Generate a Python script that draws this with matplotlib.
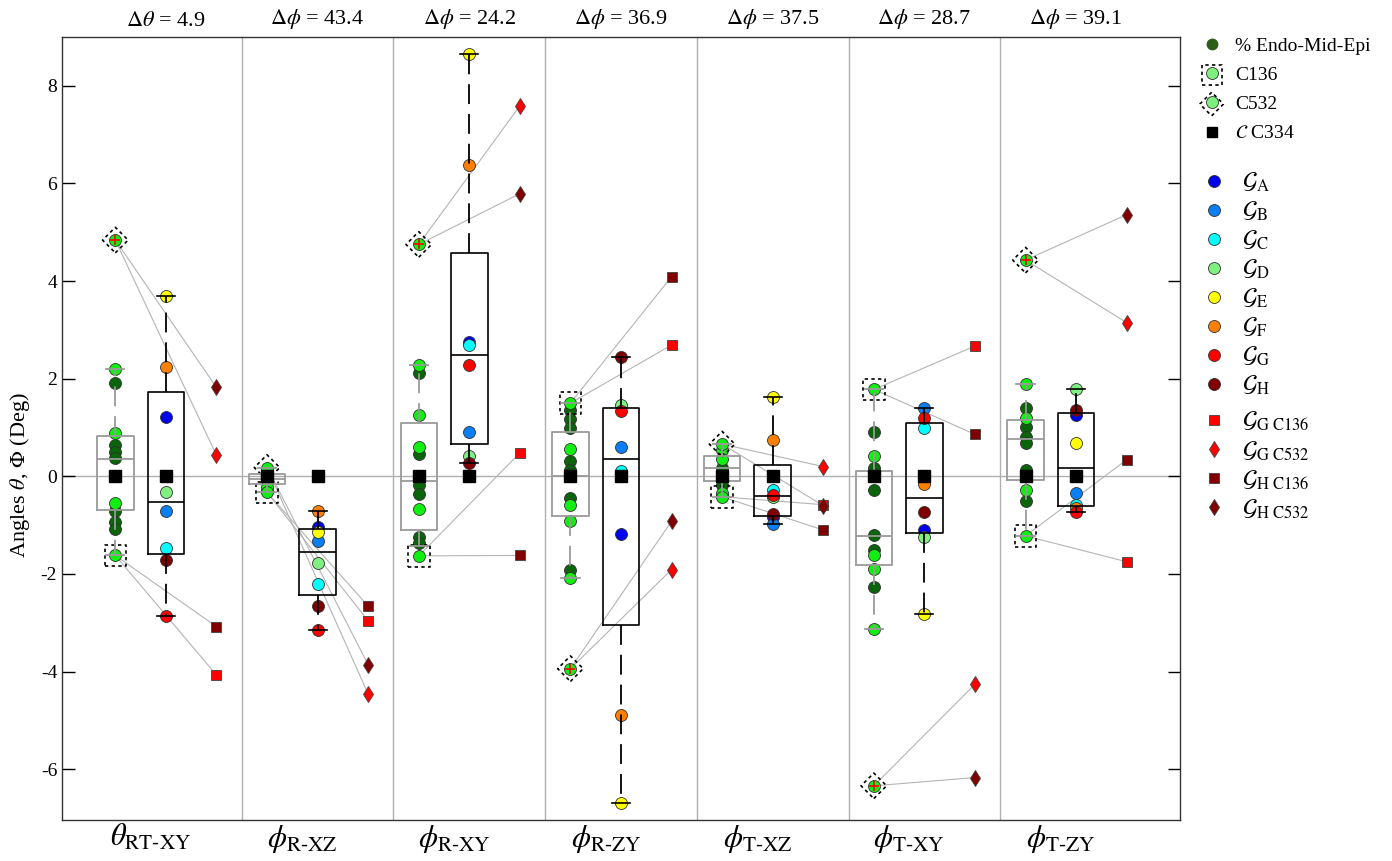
import numpy as np
import matplotlib
matplotlib.use("Agg")
import matplotlib.pyplot as plt
from matplotlib.lines import Line2D

plt.rcParams['font.family'] = ['Liberation Serif', 'DejaVu Serif']
plt.rcParams['mathtext.fontset'] = 'stix'
plt.rcParams['axes.unicode_minus'] = False

# ---------------- data ----------------
x_labels = [r'$\theta_{\mathrm{RT‐XY}}$', r'$\phi_{\mathrm{R‐XZ}}$', r'$\phi_{\mathrm{R‐XY}}$',
            r'$\phi_{\mathrm{R‐ZY}}$', r'$\phi_{\mathrm{T‐XZ}}$', r'$\phi_{\mathrm{T‐XY}}$',
            r'$\phi_{\mathrm{T‐ZY}}$']
delta_symbols = [r'\theta', r'\phi', r'\phi', r'\phi', r'\phi', r'\phi', r'\phi']
delta_values = [4.9, 43.4, 24.2, 36.9, 37.5, 28.7, 39.1]

# % Endo-Mid-Epi layer samples (two shades)
endo_dark = [
    [1.91, 0.64, 0.50, 0.37, -0.71, -0.93, -1.07],
    [0.05, -0.02, -0.12, -0.30],
    [2.11, 0.45, -0.18, -0.37, -1.24, -1.37],
    [1.36, 1.17, 1.00, 0.31, 0.14, 0.05, -0.44, -1.92],
    [0.18, -0.18, -0.38],
    [0.91, 0.18, -0.28, -1.20, -1.50, -2.27],
    [1.39, 1.02, 0.80, 0.68, 0.13, -0.51],
]
endo_light = [
    [2.20, 0.88, -0.54],
    [0.10, -0.05, -0.22],
    [2.29, 1.26, 0.61, -0.66],
    [0.57, -0.59, -0.91, -2.09],
    [0.54, 0.35, -0.35],
    [0.42, -1.61, -1.89, -3.12],
    [1.89, 1.20, -0.28],
]
c136 = [-1.62, -0.33, -1.63, 1.50, -0.42, 1.78, -1.22]
c532 = [4.84, 0.18, 4.75, -3.94, 0.66, -6.34, 4.43]
c334 = [0, 0, 0, 0, 0, 0, 0]

# summary of the layer samples
layer_q1 = [-0.68, -0.16, -1.10, -0.81, -0.09, -1.82, -0.08]
layer_med = [0.36, -0.06, -0.10, 0.00, 0.18, -1.22, 0.76]
layer_q3 = [0.83, 0.04, 1.09, 0.90, 0.42, 0.11, 1.15]
layer_lo = [-1.62, -0.33, -1.43, -2.09, -0.42, -3.12, -1.22]
layer_hi = [2.20, 0.18, 2.29, 1.50, 0.66, 1.78, 1.89]

# groups G_A .. G_H
g_A = [1.22, -1.03, 2.76, -1.19, -0.84, -1.09, 1.25]
g_B = [-0.71, -1.33, 0.90, 0.60, -0.98, 1.41, -0.35]
g_C = [-1.47, -2.21, 2.69, 0.11, -0.28, 0.98, -0.59]
g_D = [-0.33, -1.78, 0.42, 1.46, -0.42, -1.24, 1.78]
g_E = [3.70, -1.13, 8.65, -6.70, 1.63, -2.83, 0.68]
g_F = [2.23, -0.70, 6.38, -4.89, 0.74, -0.16, -0.64]
g_G = [-2.86, -3.15, 2.28, 1.34, -0.38, 1.20, -0.73]
g_H = [-1.72, -2.65, 0.27, 2.45, -0.78, -0.74, 1.36]

gG_c136 = [-4.07, -2.96, 0.48, 2.69, -0.58, 2.67, -1.75]
gG_c532 = [0.43, -4.46, 7.59, -1.91, 0.20, -4.26, 3.15]
gH_c136 = [-3.08, -2.66, -1.62, 4.09, -1.10, 0.86, 0.34]
gH_c532 = [1.82, -3.86, 5.79, -0.92, -0.60, -6.17, 5.36]

group_names = ['A', 'B', 'C', 'D', 'E', 'F', 'G', 'H']
group_values = [g_A, g_B, g_C, g_D, g_E, g_F, g_G, g_H]
group_colors = ['#0000f0', '#0a7ff5', '#00ffff', '#80f080', '#ffff00', '#ff8000', '#ff0000', '#800000']

DARK = '#0a640a'
LIGHT = '#11ee11'
PALE = '#7ff07f'
RED = '#ff0000'
MAROON = '#800000'
EDGE = '#303030'
GRAY = '#9a9a9a'

# ---------------- figure ----------------
fig = plt.figure(figsize=(13.92, 8.61), dpi=100)
ax = fig.add_axes([62 / 1392, 1 - 820 / 861, (1180 - 62) / 1392, (820 - 37) / 861])
ax.set_xlim(-0.185, 7.185)
ax.set_ylim(-7.04, 9.0)

LEFT, MID, RIGHT = 1 / 6, 1 / 2, 5 / 6
n = len(x_labels)

for k in range(1, n):
    ax.axvline(k, color='#b0b0b0', lw=1.0, zorder=1)
ax.axhline(0, color='#b0b0b0', lw=1.0, zorder=1)

circ = dict(linestyle='none', marker='o', ms=8.6, mec=EDGE, mew=0.6, zorder=3)
outline = dict(facecolors='none', edgecolors='k', linewidths=1.2, linestyles=(0, (2, 2)))

for k in range(n):
    xl, xm, xr = k + LEFT, k + MID, k + RIGHT

    # connectors from reference points to the marked group values
    for ref, vals in ((c136[k], (gG_c136[k], gH_c136[k])), (c532[k], (gG_c532[k], gH_c532[k]))):
        for v in vals:
            ax.plot([xl, xr], [ref, v], color='#b4b4b4', lw=0.8, zorder=2)

    # layer samples
    ax.plot([xl] * len(endo_dark[k]), endo_dark[k], mfc=DARK, **circ)
    ax.plot([xl] * len(endo_light[k]), endo_light[k], mfc=LIGHT, **circ)
    ax.plot([xl, xl], [c136[k], c532[k]], mfc=LIGHT, **circ)
    ax.scatter([xl], [c136[k]], marker='s', s=15.5 ** 2, zorder=3.5, **outline)
    ax.scatter([xl], [c532[k]], marker='D', s=13 ** 2, zorder=3.5, **outline)

    # group samples
    for vals, col in zip(group_values, group_colors):
        ax.plot([xm], [vals[k]], mfc=col, **circ)

    # marked group values
    ax.plot([xr], [gG_c136[k]], 's', ms=6.8, mfc=RED, mec='#404040', mew=0.6, zorder=3)
    ax.plot([xr], [gG_c532[k]], 'd', ms=7.8, mfc=RED, mec='#404040', mew=0.6, zorder=3)
    ax.plot([xr], [gH_c136[k]], 's', ms=6.8, mfc=MAROON, mec='#404040', mew=0.6, zorder=3)
    ax.plot([xr], [gH_c532[k]], 'd', ms=7.8, mfc=MAROON, mec='#404040', mew=0.6, zorder=3)

    # reference C334
    ax.plot([xl, xm], [c334[k], c334[k]], 's', ms=8.2, mfc='k', mec='k', zorder=4.5)

# box summaries
layer_stats = []
for k in range(n):
    fl = [c532[k]] if (c532[k] < layer_lo[k] or c532[k] > layer_hi[k]) else []
    layer_stats.append(dict(q1=layer_q1[k], med=layer_med[k], q3=layer_q3[k],
                            whislo=layer_lo[k], whishi=layer_hi[k], fliers=fl))


def group_stats(vals):
    v = np.asarray(vals, dtype=float)
    q1, med, q3 = np.percentile(v, [25, 50, 75], method='hazen')
    iqr = q3 - q1
    lo = v[v >= q1 - 1.5 * iqr].min()
    hi = v[v <= q3 + 1.5 * iqr].max()
    return dict(q1=q1, med=med, q3=q3, whislo=lo, whishi=hi, fliers=v[(v < lo) | (v > hi)])


grp_stats = [group_stats([g[k] for g in group_values]) for k in range(n)]

dash = (0, (11, 5.5))
flier = dict(marker='+', markeredgecolor=RED, markersize=7.5, markeredgewidth=1.2, linestyle='none')
ax.bxp(layer_stats, positions=[k + LEFT for k in range(n)], widths=0.24, manage_ticks=False,
       boxprops=dict(color=GRAY, lw=1.3), whiskerprops=dict(color=GRAY, lw=1.3, linestyle=dash),
       capprops=dict(color=GRAY, lw=1.3), medianprops=dict(color=GRAY, lw=1.3),
       flierprops=flier, zorder=4)
ax.bxp(grp_stats, positions=[k + MID for k in range(n)], widths=0.24, manage_ticks=False,
       boxprops=dict(color='k', lw=1.2), whiskerprops=dict(color='k', lw=1.3, linestyle=dash),
       capprops=dict(color='k', lw=1.2), medianprops=dict(color='k', lw=1.2),
       flierprops=flier, zorder=4)

# panel headers
for k in range(n):
    ax.annotate(rf'$\Delta{delta_symbols[k]}$ = {delta_values[k]}', xy=(k + 0.5, 1.0),
                xycoords=('data', 'axes fraction'), xytext=(0, 4), textcoords='offset points',
                ha='center', va='bottom', fontsize=16)

# axes styling
ax.set_xticks([k + 0.4 for k in range(n)])
ax.set_xticklabels(x_labels, fontsize=22)
ax.tick_params(axis='x', length=0, pad=2)
ax.set_yticks([-6, -4, -2, 0, 2, 4, 6, 8])
ax.tick_params(axis='y', direction='in', length=9, width=1, right=True, labelsize=14)
for sp in ax.spines.values():
    sp.set_color('#333333')
    sp.set_linewidth(1.0)
ax.set_ylabel(r'Angles $\theta$, $\mathit{\Phi}$ (Deg)', fontsize=16)
ax.yaxis.set_label_coords(-0.027, 0.44)

# legends
sq_outline = ax.scatter([], [], marker='s', s=14.5 ** 2, **outline)
di_outline = ax.scatter([], [], marker='D', s=12 ** 2, **outline)
pale_dot = Line2D([], [], linestyle='none', marker='o', ms=8.6, mfc=PALE, mec=EDGE, mew=0.6)

h1 = [Line2D([], [], linestyle='none', marker='o', ms=7.5, mfc='#2a5e16', mec='#2a5e16'),
      (sq_outline, pale_dot), (di_outline, pale_dot),
      Line2D([], [], linestyle='none', marker='s', ms=7.5, mfc='k', mec='k')]
l1 = ['% Endo-Mid-Epi', 'C136', 'C532', r'$\mathcal{C}$ C334']

h2 = [Line2D([], [], linestyle='none', marker='o', ms=8.6, mfc=c, mec=EDGE, mew=0.6)
      for c in group_colors]
l2 = [rf'$\mathcal{{G}}_{{\mathrm{{{g}}}}}$' for g in group_names]

h3 = [Line2D([], [], linestyle='none', marker='s', ms=6.8, mfc=RED, mec='#404040', mew=0.6),
      Line2D([], [], linestyle='none', marker='d', ms=7.8, mfc=RED, mec='#404040', mew=0.6),
      Line2D([], [], linestyle='none', marker='s', ms=6.8, mfc=MAROON, mec='#404040', mew=0.6),
      Line2D([], [], linestyle='none', marker='d', ms=7.8, mfc=MAROON, mec='#404040', mew=0.6)]
l3 = [r'$\mathcal{G}_{\mathrm{G\ C136}}$', r'$\mathcal{G}_{\mathrm{G\ C532}}$',
      r'$\mathcal{G}_{\mathrm{H\ C136}}$', r'$\mathcal{G}_{\mathrm{H\ C532}}$']

common = dict(loc='upper left', frameon=False, borderpad=0, borderaxespad=0,
              handlelength=1.2, handletextpad=0.6)
fig.legend(h1, l1, bbox_to_anchor=(1200 / 1392, 1 - 37 / 861), fontsize=14, labelspacing=0.6, **common)
fig.legend(h2, l2, bbox_to_anchor=(1200 / 1392, 1 - 171 / 861), fontsize=17, labelspacing=0.24, **common)
fig.legend(h3, l3, bbox_to_anchor=(1200 / 1392, 1 - 410 / 861), fontsize=17, labelspacing=0.25, **common)

fig.savefig('out.png', dpi=100)
